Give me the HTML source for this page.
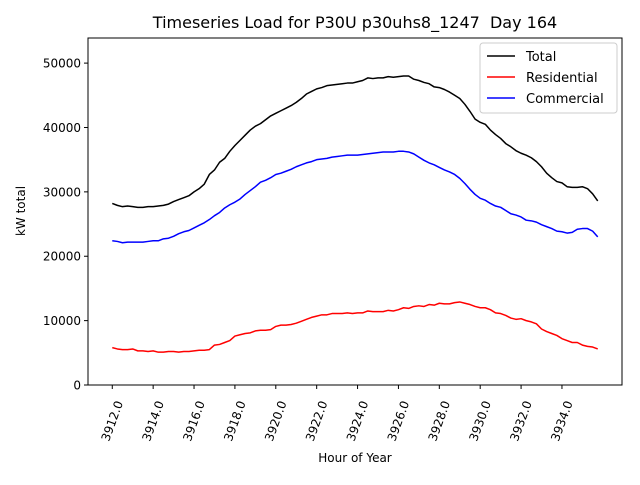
<!DOCTYPE html>
<html><head><meta charset="utf-8"><style>
body{margin:0;background:#fff}
svg{font-family:"DejaVu Sans","Liberation Sans",sans-serif}
</style></head><body>
<svg id="chart" width="640" height="480" viewBox="0 0 640 480" xmlns="http://www.w3.org/2000/svg">
<rect width="640" height="480" fill="#fff"/>
<text x="355" y="28" font-size="16" text-anchor="middle">Timeseries Load for P30U p30uhs8_1247&#160; Day 164</text>
<text transform="translate(25,211) rotate(-90)" font-size="12" text-anchor="middle">kW total</text>
<text x="355" y="462" font-size="12" text-anchor="middle">Hour of Year</text>
<g id="grid"></g>
<g id="series"></g>
<rect x="88" y="38" width="534" height="347" fill="none" stroke="#000" stroke-width="1"/>
<g>
<rect x="480" y="43" width="137" height="70" rx="3" fill="#fff" fill-opacity="0.8" stroke="#ccc"/>
<line x1="487" y1="56" x2="515" y2="56" stroke="#000" stroke-width="1.5"/>
<text x="526" y="61" font-size="13">Total</text>
<line x1="487" y1="77" x2="515" y2="77" stroke="#f00" stroke-width="1.5"/>
<text x="526" y="82" font-size="13">Residential</text>
<line x1="487" y1="98" x2="515" y2="98" stroke="#00f" stroke-width="1.5"/>
<text x="526" y="103" font-size="13">Commercial</text>
</g>
</svg>
<script>
const startHour = 3912;
const stepHours = 0.25;
const xTicks = [3912,3914,3916,3918,3920,3922,3924,3926,3928,3930,3932,3934];
const xTickLabels = ["3912.0","3914.0","3916.0","3918.0","3920.0","3922.0","3924.0","3926.0","3928.0","3930.0","3932.0","3934.0"];
const yTicks = [0,10000,20000,30000,40000,50000];
const yTickLabels = ["0","10000","20000","30000","40000","50000"];
const totalValues = [28200,27900,27700,27800,27700,27600,27600,27700,27700,27800,27900,28100,28500,28800,29100,29400,30000,30500,31200,32700,33400,34600,35200,36300,37200,38000,38800,39600,40200,40600,41200,41800,42200,42600,43000,43400,43900,44500,45200,45600,46000,46200,46500,46600,46700,46800,46900,46900,47100,47300,47700,47600,47700,47700,47900,47800,47900,48000,48000,47500,47300,47000,46800,46300,46200,45900,45500,45000,44500,43600,42500,41300,40800,40500,39600,38900,38300,37500,37000,36400,36000,35700,35300,34700,33900,32900,32200,31600,31400,30800,30700,30700,30800,30500,29700,28600];
const residentialValues = [5800,5600,5500,5500,5600,5300,5300,5200,5300,5100,5100,5200,5200,5100,5200,5200,5300,5400,5400,5500,6200,6300,6600,6900,7600,7800,8000,8100,8400,8500,8500,8600,9100,9300,9300,9400,9600,9900,10200,10500,10700,10900,10900,11100,11100,11100,11200,11100,11200,11200,11500,11400,11400,11400,11600,11500,11700,12000,11900,12200,12300,12200,12500,12400,12700,12600,12600,12800,12900,12700,12500,12200,12000,12000,11700,11200,11100,10800,10400,10200,10300,10000,9800,9500,8700,8300,8000,7700,7200,6900,6600,6600,6200,6000,5900,5600];
const commercialValues = [22400,22300,22100,22200,22200,22200,22200,22300,22400,22400,22700,22800,23100,23500,23800,24000,24400,24800,25200,25700,26300,26800,27500,28000,28400,28900,29600,30200,30800,31500,31800,32200,32700,32900,33200,33500,33900,34200,34500,34700,35000,35100,35200,35400,35500,35600,35700,35700,35700,35800,35900,36000,36100,36200,36200,36200,36300,36300,36200,35900,35400,34900,34500,34200,33800,33400,33100,32700,32100,31300,30400,29600,29000,28700,28200,27800,27600,27100,26600,26400,26100,25600,25500,25300,24900,24600,24300,23900,23800,23600,23700,24200,24300,24300,23900,23000];

const NS = "http://www.w3.org/2000/svg";
const X0 = 88, X1 = 622, Y0 = 385, Y1 = 38;
const xMin = 3910.8125, xMax = 3936.9375, yMin = 0, yMax = 53900;
function xs(v){ return X0 + (v - xMin) / (xMax - xMin) * (X1 - X0); }
function ys(v){ return Y0 - (v - yMin) / (yMax - yMin) * (Y0 - Y1); }
function mk(tag, attrs, parent){ const e = document.createElementNS(NS, tag); for (const k in attrs) e.setAttribute(k, attrs[k]); parent.appendChild(e); return e; }
const grid = document.getElementById('grid');
xTicks.forEach((t, i) => {
  const x = xs(t);
  const tk = mk('line', {x1:x, y1:Y0, x2:x, y2:Y0+4, stroke:'#000'}, grid);
  
  
  const lb = mk('text', {transform:`translate(${x},${Y0+36}) rotate(-70)`, 'font-size':12, 'text-anchor':'middle', 'dominant-baseline':'central'}, grid);
  lb.textContent = xTickLabels[i];
  
  
});
yTicks.forEach((t, i) => {
  const y = ys(t);
  const tk = mk('line', {x1:X0-4, y1:y, x2:X0, y2:y, stroke:'#000'}, grid);
  
  
  const lb = mk('text', {x:X0-7, y:y+4.5, 'font-size':12, 'text-anchor':'end'}, grid);
  lb.textContent = yTickLabels[i];
  
  
});
const series = document.getElementById('series');
function line(vals, color, name){
  const d = vals.map((v, i) => (i ? 'L' : 'M') + xs(startHour + i*stepHours).toFixed(2) + ',' + ys(v).toFixed(2)).join(' ');
  const p = mk('path', {d:d, fill:'none', stroke:color, 'stroke-width':1.5, 'stroke-linejoin':'round'}, series);
  
  
}
line(totalValues, '#000', 'total-line');
line(residentialValues, '#f00', 'residential-line');
line(commercialValues, '#00f', 'commercial-line');
</script>
</body></html>
